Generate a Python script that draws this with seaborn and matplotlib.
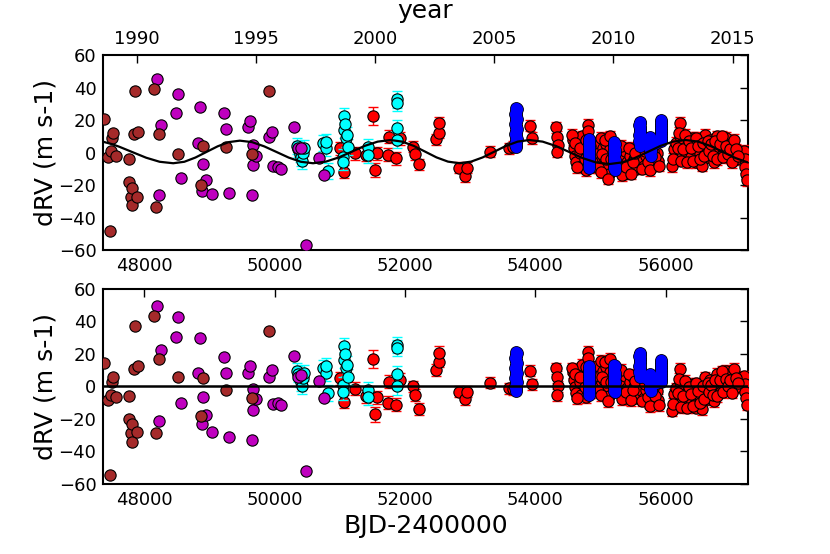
import numpy as np
import pandas as pd
import matplotlib
matplotlib.use("Agg")
import matplotlib.pyplot as plt
import seaborn as sns

# ---------------- data ----------------
# brown series
t_brown = [47383, 47450, 47475, 47486, 47502, 47517, 47567, 47771, 47771, 47792, 47817, 47817,
           47848, 47858, 47884, 47909, 48149, 48180, 48230, 48522, 48869, 48904, 49252, 49655, 49915]
rv_brown = [20.6, -2.6, -48.0, 0.9, 8.7, 11.8, -2.2, -4.0, -18.3, -27.2, -22.0, -32.3,
            11.2, 37.8, -27.2, 12.8, 39.0, -33.3, 11.2, -0.9, -20.0, 4.2, 3.6, -0.9, 38.0]
res_brown = [14.3, -8.3, -54.5, -5.2, 3.0, 6.0, -6.6, -5.8, -20.2, -28.8, -23.0, -34.0,
             10.6, 37.2, -27.8, 12.6, 43.4, -28.8, 16.7, 5.7, -18.2, 5.0, -2.2, -7.3, 34.4]

# magenta series
t_mag = [48191, 48230, 48257, 48486, 48522, 48558, 48828, 48854, 48889, 48904, 48946, 49033,
         49221, 49262, 49293, 49593, 49619, 49655, 49670, 49670, 49707, 49915, 49961, 49976,
         50053, 50094, 50293, 50362, 50411, 50477, 50681, 50758]
rv_mag = [45.0, -26.2, 16.7, 24.1, 36.0, -15.9, 6.0, 28.2, -23.5, -7.3, -16.9, -25.7,
          24.1, 14.3, -25.1, 15.9, 19.4, -26.2, 4.6, -7.7, -2.0, 9.7, 12.8, -8.1,
          -8.7, -10.3, 15.9, 2.6, 2.6, -57.0, -3.2, -13.8]
res_mag = [49.5, -21.2, 22.5, 30.7, 42.6, -10.0, 8.1, 30.0, -23.0, -6.6, -17.5, -27.8,
           18.3, 8.1, -31.3, 8.5, 12.6, -32.9, -1.7, -14.5, -7.9, 6.0, 10.2, -10.8,
           -10.0, -11.4, 18.8, 6.0, 7.1, -51.8, 3.6, -7.3]

# cyan series
t_cyan = [50340, 50365, 50385, 50400, 50415, 50430, 50450,
          50742, 50783, 50794, 50819,
          51048, 51048, 51064, 51064, 51085, 51100, 51110, 51125,
          51431, 51431, 51875, 51875, 51875, 51875]
rv_cyan = [4.0, 2.0, -1.0, -3.0, -5.0, 0.0, 3.0,
           5.7, 2.6, 6.7, -11.2,
           -2.6, -5.7, 22.6, 13.8, 17.5, 8.7, 11.0, 3.6,
           3.6, -1.5, 32.7, 30.3, 14.9, 7.7]
res_cyan = [9.5, 7.5, 4.5, 2.5, 0.5, 5.5, 8.5,
            11.3, 8.1, 12.3, -4.2,
            0.9, -3.2, 25.1, 16.3, 20.0, 11.2, 13.5, 6.0,
            -2.2, -6.6, 25.5, 23.5, 7.7, 0.0]
err_cyan = [5.0] * len(t_cyan)

# red series
t_red = [51002, 51064, 51228, 51406, 51507, 51533, 51569, 51738, 51753, 51855, 51917,
         52120, 52146, 52212, 52478, 52529, 52529, 52825, 52927, 52947, 53305, 53601, 53650,
         53910, 53955, 54320, 54330, 54340, 54335,
         54580, 54590, 54600, 54620, 54650, 54680, 54700, 54720, 54740, 54760, 54780, 54800,
         54800, 54810, 54830, 54850,
         54950, 54970, 54990, 55010, 55030, 55050, 55060, 55080, 55100, 55110, 55130, 55150,
         55320, 55340, 55360, 55380, 55400, 55420, 55450, 55470, 55500, 55520, 55540,
         55620, 55660, 55700, 55740, 55780, 55820, 55860, 55880,
         56093, 56130, 56160, 56220, 56220, 56250, 56280, 56310, 56340, 56380, 56410, 56440,
         56470, 56510, 56530, 56560, 56600, 56620, 56650, 56680, 56710, 56740, 56780, 56810,
         56840, 56870, 56900, 56930, 56960, 56990, 57020, 57050, 57080,
         57200, 57210, 57220, 57230, 57240,
         56110, 56180, 56200, 56240, 56270, 56300, 56330, 56360, 56390, 56420, 56460, 56490,
         56520, 56570, 56580, 56640, 56660, 56700, 56730, 56760, 56790, 56830, 56860, 56880,
         56920, 56950, 56980, 57010, 57040, 57070, 57100,
         54560, 54610, 54640, 54690, 54770, 54840, 54870, 54960, 55000, 55020, 55070, 55090,
         55120, 55140, 55160,
         55310, 55330, 55390, 55440, 55460, 55490, 55530,
         55640, 55680, 55720, 55760, 55800, 55840, 55900]
rv_red = [2.6, -11.8, -0.5, -1.5, 22.5, -10.8, -0.5, -1.5, 9.7, -3.6, 8.7,
          3.6, -0.9, -7.3, 8.1, 12.2, 18.0, -9.4, -14.5, -9.4, 0.5, 2.6, 3.6,
          16.5, 9.0, 15.5, 9.7, 4.6, 0.5,
          8.0, 3.0, -2.0, -6.0, 5.0, 0.0, -8.0, 10.0, 2.0, -4.0, -11.0, 16.9,
          13.0, 6.0, -2.0, -9.0,
          6.0, 0.0, -6.0, 9.0, 3.0, -3.0, -10.0, 5.0, -1.0, -7.0, -13.0, 2.0,
          -3.0, -9.0, -13.0, 1.0, -6.0, -11.0, -2.0, -8.0, 2.0, -4.0, -10.0,
          -4.0, -8.0, -2.0, -9.0, -5.0, -8.0, 0.0, -5.0,
          -8.3, 2.0, 6.0, 18.3, 10.0, 4.0, 8.0, 0.0, 5.0, -3.0, 9.0, 2.0,
          -6.0, 7.0, 0.0, -8.0, 11.0, 4.0, -3.0, 8.0, 1.0, -6.0, 10.0, 3.0,
          -2.0, 7.0, 0.0, 9.0, 4.0, -3.0, 6.0, 1.0, -4.0,
          1.0, -4.0, -9.0, -13.0, -17.0,
          -4.0, 3.0, 12.0, -5.0, 2.0, 11.0, -6.0, 7.0, 3.0, -5.0, 9.0, 4.0,
          -4.0, 6.0, -2.0, 7.0, 1.0, 5.0, -2.0, 7.0, -4.0, 5.0, 10.0, -3.0,
          4.0, -1.0, 2.0, -6.0, 8.0, 2.0, -2.0,
          11.0, 6.0, -9.0, 3.0, 8.0, 4.0, -6.0, -9.0, -12.0, -1.0, 8.0, -4.0,
          -16.0, 10.0, -4.0,
          4.0, -14.0, -9.0, 3.0, -13.0, -6.0, 0.0,
          -10.0, 1.0, -6.0, -11.0, 1.0, -3.0, -8.0]
res_red = [5.0, -9.4, -1.5, -6.0, 16.7, -17.1, -6.6, -10.0, 3.0, -11.4, 4.0,
           0.0, -5.2, -13.8, 10.2, 15.3, 20.8, -3.2, -7.9, -3.2, 2.3, -1.1, -1.5,
           9.7, 1.4, 11.2, 5.8, 0.0, -5.2,
           8.9, 3.9, -0.6, -4.3, 7.1, 2.6, -5.0, 13.3, 5.6, -0.1, -6.7, 21.5,
           17.6, 10.7, 3.0, -3.7,
           12.3, 6.3, 0.5, 15.7, 9.8, 3.9, -3.1, 12.0, 6.0, 0.0, -5.9, 9.1,
           3.3, -2.9, -7.2, 6.5, -0.7, -6.0, 2.6, -3.7, 5.8, -0.5, -6.9,
           -2.4, -7.1, -1.9, -9.7, -6.5, -10.3, -3.0, -8.3,
           -14.8, -4.9, -1.1, 10.8, 2.5, -3.6, 0.3, -7.7, -2.7, -10.6, 1.5, -5.2,
           -13.0, 0.4, -6.4, -13.9, 5.6, -1.2, -7.7, 3.8, -2.7, -9.1, 7.7, 1.3,
           -3.1, 6.5, 0.1, 9.7, 5.3, -1.1, 8.5, 4.0, -0.5,
           6.3, 1.4, -3.5, -7.4, -11.2,
           -10.6, -4.2, 4.6, -12.6, -5.7, 3.3, -13.0, -0.6, -4.6, -12.3, 2.0, -2.5,
           -10.4, 0.1, -7.7, 2.2, -3.6, 1.2, -5.0, 4.2, -6.0, 3.9, 9.3, -3.3,
           4.6, 0.0, 3.8, -3.8, 10.9, 5.4, 1.9,
           11.2, 7.5, -7.0, 5.8, 12.0, 9.2, -0.4, -2.5, -5.3, 5.8, 14.9, 3.0,
           -9.0, 17.1, 3.0,
           10.3, -7.9, -3.6, 7.5, -8.6, -2.1, 3.3,
           -8.8, 1.5, -6.3, -12.0, -0.9, -5.6, -11.7]
err_red = ([4.0, 4.0, 4.0, 4.0, 5.5, 4.5, 4.0, 4.0, 4.0, 4.0, 4.0,
            3.5, 3.5, 3.5, 3.5, 3.5, 4.0, 3.5, 3.5, 3.5, 3.5, 3.5, 3.5,
            3.5, 3.5, 3.5, 3.5, 3.5, 3.5] + [3.5] * (len(t_red) - 29))

# blue series (dense columns)
t_blue = ([53700, 53710, 53690, 53705, 53695, 53715, 53700, 53710, 53690, 53705, 53695, 53715,
           53700, 53710, 53690, 53705, 53695, 53715, 53700, 53710, 53690, 53705, 53695, 53715,
           53700]
          + [54820, 54825, 54815, 54822, 54818, 54826, 54820, 54824, 54816, 54821, 54819, 54825,
             54815, 54822, 54818, 54826, 54820, 54824, 54816]
          + [55210, 55215, 55205, 55212, 55208, 55216, 55210, 55214, 55206, 55211, 55209, 55215,
             55205, 55212, 55208, 55216, 55210, 55214]
          + [55600, 55605, 55595, 55602, 55598, 55606, 55600, 55604, 55596, 55601, 55599, 55605,
             55595, 55602, 55598, 55606]
          + [55700, 55730, 55760, 55790, 55820, 55850, 55760, 55770, 55765, 55775, 55760, 55770,
             55765, 55775, 55760, 55770]
          + [55925, 55930, 55920, 55927, 55923, 55931, 55925, 55929, 55921, 55926, 55924, 55930,
             55920, 55927])
rv_blue = ([3.5, 4.5, 5.5, 6.5, 7.5, 8.5, 9.5, 10.5, 11.5, 12.5, 13.5, 14.5,
            15.5, 16.5, 17.5, 18.5, 19.5, 20.5, 21.5, 22.5, 23.5, 24.5, 25.5, 26.5,
            27.5]
           + [8.5, 7.5, 6.5, 5.5, 4.5, 3.5, 2.5, 1.5, 0.5, -0.5, -1.5, -2.5,
              -3.5, -4.5, -5.5, -6.5, -7.5, -8.5, -9.5]
           + [6.5, 5.5, 4.5, 3.5, 2.5, 1.5, 0.5, -0.5, -1.5, -2.5, -3.5, -4.5,
              -5.5, -6.5, -7.5, -8.5, -9.5, -10.5]
           + [19.0, 18.0, 17.0, 16.0, 15.0, 14.0, 13.0, 12.0, 11.0, 10.0, 9.0, 8.0,
              7.0, 6.0, 5.0, 4.0]
           + [6.5, 6.0, 6.5, 6.0, 6.5, 6.0, 9.5, 8.5, 7.5, 5.0, 4.0, 3.0,
              2.0, 1.0, 0.0, -2.0]
           + [20.0, 19.0, 18.0, 17.0, 16.0, 15.0, 14.0, 13.0, 12.0, 11.0, 10.0, 9.0,
              8.0, 7.0])
res_blue = ([-2.5, -1.5, -0.5, 0.5, 1.5, 2.5, 3.5, 4.5, 5.5, 6.5, 7.5, 8.5,
             9.5, 10.5, 11.5, 12.5, 13.5, 14.5, 15.5, 16.5, 17.5, 18.5, 19.5, 20.5,
             21.5]
            + [12.5, 11.5, 10.5, 9.5, 8.5, 7.5, 6.5, 5.5, 4.5, 3.5, 2.5, 1.5,
               0.5, -0.5, -1.5, -2.5, -3.5, -4.5, -5.5]
            + [13.5, 12.5, 11.5, 10.5, 9.5, 8.5, 7.5, 6.5, 5.5, 4.5, 3.5, 2.5,
               1.5, 0.5, -0.5, -1.5, -2.5, -3.5]
            + [20.9, 19.9, 18.9, 17.9, 16.9, 15.9, 14.9, 13.9, 12.9, 11.9, 10.9, 9.9,
               8.9, 7.9, 6.9, 5.9]
            + [5.5, 4.5, 4.5, 3.5, 3.0, 2.0, 7.5, 6.5, 5.5, 3.5, 2.5, 1.5,
               0.5, -0.5, -1.5, -3.0]
            + [16.0, 15.0, 14.0, 13.0, 12.0, 11.0, 10.0, 9.0, 8.0, 7.0, 6.0, 5.0,
               4.0, 3.0])
err_blue = [1.5] * len(t_blue)

# fitted model curve
t_model = [47373, 47500, 47615, 47822, 48030, 48237, 48445, 48615, 48785, 48955, 49126, 49296,
           49466, 49653, 49840, 50028, 50215, 50402, 50589, 50787, 50986, 51184, 51383, 51581,
           51780, 51956, 52132, 52308, 52483, 52659, 52835, 53014, 53192, 53371, 53550, 53728,
           53907, 54111, 54315, 54520, 54723, 54928, 55132, 55328, 55523, 55719, 55915, 56110,
           56306, 56497, 56687, 56878, 57069, 57257]
rv_model = [6.6, 5.2, 3.6, 0.2, -3.2, -5.7, -6.6, -5.7, -3.1, 0.35, 3.8, 6.4,
            7.3, 6.4, 3.8, 0.35, -3.1, -5.7, -6.6, -5.6, -3.0, 0.55, 4.1, 6.7,
            7.7, 6.7, 4.1, 0.55, -3.0, -5.6, -6.6, -5.6, -3.0, 0.55, 4.1, 6.7,
            7.7, 6.7, 4.0, 0.3, -3.4, -6.1, -7.1, -6.1, -3.4, 0.3, 4.0, 6.7,
            7.7, 6.7, 4.0, 0.3, -3.4, -6.1]

year_ticks = [1990, 1995, 2000, 2005, 2010, 2015]
y_ticks = [-60, -40, -20, 0, 20, 40, 60]
x_ticks = [48000, 50000, 52000, 54000, 56000]

# ---------------- styling ----------------
sns.set_theme(style="white")
plt.rcParams["font.family"] = ["DejaVu Sans"]
plt.rcParams["axes.unicode_minus"] = True
plt.rcParams["text.color"] = "black"
plt.rcParams["axes.labelcolor"] = "black"
plt.rcParams["xtick.color"] = "black"
plt.rcParams["ytick.color"] = "black"

XMIN, XMAX = 47373, 57257
MS = 66

fig = plt.figure(figsize=(8.3, 5.54), dpi=100)
ax1 = fig.add_axes([0.1245, 0.5487, 0.7764, 0.352])
ax2 = fig.add_axes([0.1245, 0.1264, 0.7764, 0.352])

series = [
    # name, t, top, resid, err, color, z, solid-fill overlay
    ("red", t_red, rv_red, res_red, err_red, "#ff0000", 3, False),
    ("blue", t_blue, rv_blue, res_blue, err_blue, "#0000ff", 4, True),
    ("cyan", t_cyan, rv_cyan, res_cyan, err_cyan, "#00ffff", 5, False),
    ("mag", t_mag, rv_mag, res_mag, None, "#bf00bf", 6, False),
    ("brown", t_brown, rv_brown, res_brown, None, "#a52a2a", 7, False),
]

for ax, key in ((ax1, "top"), (ax2, "res")):
    for name, t, top, res, err, col, z, solid in series:
        df = pd.DataFrame({"t": t, "v": top if key == "top" else res})
        if err is not None:
            ax.errorbar(df["t"], df["v"], yerr=err, fmt="none", ecolor=col,
                        elinewidth=1.0, capsize=3.8, capthick=1.0, zorder=z)
        sns.scatterplot(data=df, x="t", y="v", ax=ax, color=col, s=MS,
                        edgecolor="black", linewidth=1.1 if solid else 0.8,
                        zorder=z + 0.3, legend=False)
        if solid:
            sns.scatterplot(data=df, x="t", y="v", ax=ax, color=col, s=MS,
                            linewidth=0, zorder=z + 0.6, legend=False)

dfm = pd.DataFrame({"t": t_model, "v": rv_model})
sns.lineplot(data=dfm, x="t", y="v", ax=ax1, color="black", linewidth=1.6,
             sort=False, estimator=None, zorder=10)
ax2.axhline(0, color="black", linewidth=1.8, zorder=10)

for ax in (ax1, ax2):
    ax.set_xlim(XMIN, XMAX)
    ax.set_ylim(-60, 60)
    ax.set_yticks(y_ticks)
    ax.set_xticks(x_ticks)
    ax.set_ylabel("dRV (m s-1)", fontsize=18, labelpad=1)
    ax.set_xlabel("")
    ax.tick_params(axis="both", direction="in", length=5.5, width=1.0,
                   labelsize=13, pad=5, right=True, color="black", labelcolor="black")
    for sp in ax.spines.values():
        sp.set_linewidth(1.5)
        sp.set_color("black")

ax1.tick_params(axis="x", labelbottom=True, top=False)
ax2.tick_params(axis="x", top=True, labelbottom=True)
ax2.set_xlabel("BJD-2400000", fontsize=18, labelpad=4)


def bjd2yr(x):
    return 2000.0 + (np.asarray(x) - 51544.5) / 365.25


def yr2bjd(y):
    return 51544.5 + (np.asarray(y) - 2000.0) * 365.25


sec = ax1.secondary_xaxis("top", functions=(bjd2yr, yr2bjd))
sec.set_xticks(year_ticks)
sec.tick_params(direction="in", length=5.5, width=1.0, labelsize=13, pad=5,
                color="black", labelcolor="black")
sec.set_xlabel("year", fontsize=18, labelpad=9)

fig.savefig("out.png", dpi=100)
